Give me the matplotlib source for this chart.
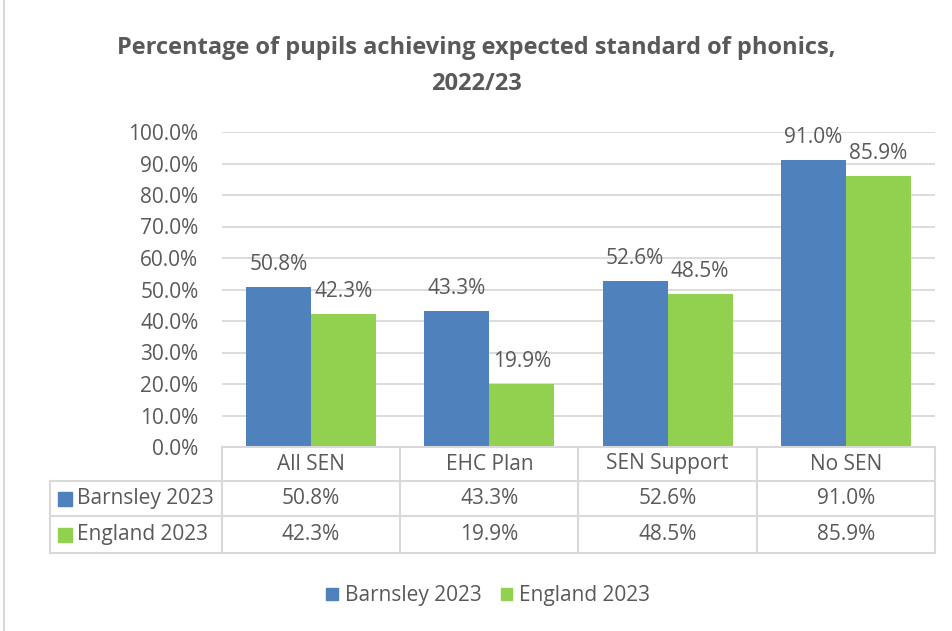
import numpy as np
import matplotlib.pyplot as plt
from matplotlib.patches import Rectangle
from matplotlib.transforms import blended_transform_factory

categorias = ['All SEN', 'EHC Plan', 'SEN Support', 'No SEN']
series = ['Barnsley 2023', 'England 2023']
barnsley = [50.8, 43.3, 52.6, 91.0]
england = [42.3, 19.9, 48.5, 85.9]
colores = ['#4f81bd', '#92d050']

W, H = 953, 631
gris_txt = '#595959'
gris_lin = '#d9d9d9'
fuente = 'Open Sans'
tam = 15

def px(x, y):
    # pixeles (desde arriba-izquierda) -> coords de figura
    return x / W, 1 - y / H

fig = plt.figure(figsize=(W / 100, H / 100), dpi=100)

# borde exterior del grafico
fig.patches.append(Rectangle(px(4, 645), 1.1, 1.1, transform=fig.transFigure,
                             fill=False, edgecolor=gris_lin, linewidth=1.5))

# titulo
fig.text(0.5, 1 - 48 / H, 'Percentage of pupils achieving expected standard of phonics,',
         ha='center', va='center', fontsize=17, fontweight='bold', color=gris_txt,
         family=fuente)
fig.text(0.5, 1 - 84 / H, '2022/23', ha='center', va='center', fontsize=17,
         fontweight='bold', color=gris_txt, family=fuente)

izq, der, arriba, abajo = 222, 935, 132, 447
ax = fig.add_axes([izq / W, 1 - abajo / H, (der - izq) / W, (abajo - arriba) / H])

x = np.arange(len(categorias))
ancho = 0.365
valores = [barnsley, england]
for i, vals in enumerate(valores):
    pos = x + (i - 0.5) * ancho
    ax.bar(pos, vals, width=ancho, color=colores[i], zorder=3)
    for p, v in zip(pos, vals):
        ax.text(p, v + 3.8, f'{v:.1f}%', ha='center', va='bottom', fontsize=tam,
                color=gris_txt, family=fuente, zorder=4)

ax.set_xlim(-0.5, len(categorias) - 0.5)
ax.set_ylim(0, 100)
ax.set_yticks(np.arange(0, 101, 10))
ax.set_yticklabels([f'{t:.1f}%' for t in np.arange(0, 101, 10)], fontsize=tam,
                   color=gris_txt, family=fuente)
ax.tick_params(axis='y', length=0, pad=17)
ax.set_xticks([])
ax.grid(axis='y', color=gris_lin, linewidth=1.3, zorder=0)
for s in ax.spines.values():
    s.set_visible(False)
ax.patch.set_alpha(0)

# tabla de datos debajo del eje
tr = blended_transform_factory(ax.transData, fig.transFigure)
filas_y = [447, 481, 516, 553]
izq_tabla = 50

def linea(x0, y0, x1, y1):
    a, b = px(x0, y0)
    c, d = px(x1, y1)
    fig.add_artist(plt.Line2D([a, c], [b, d], transform=fig.transFigure,
                              color=gris_lin, linewidth=1.5))

# lineas horizontales
linea(izq, filas_y[0], der, filas_y[0])
for yy in filas_y[1:]:
    linea(izq_tabla, yy, der, yy)
# lineas verticales
linea(izq_tabla, filas_y[1], izq_tabla, filas_y[3])
for k in range(len(categorias) + 1):
    xx = izq + k * (der - izq) / len(categorias)
    linea(xx, filas_y[0], xx, filas_y[3])

# encabezados de categoria
yc = 1 - (filas_y[0] + filas_y[1]) / 2 / H
for xi, cat in zip(x, categorias):
    ax.text(xi, yc, cat, transform=tr, ha='center', va='center', fontsize=tam,
            color=gris_txt, family=fuente)

# filas de valores con su clave de color
for r, (nombre, vals) in enumerate(zip(series, valores)):
    ym = 1 - (filas_y[r + 1] + filas_y[r + 2]) / 2 / H
    fig.patches.append(Rectangle((58 / W, ym - 7 / H), 14 / W, 14 / H,
                                 transform=fig.transFigure, color=colores[r]))
    fig.text(77 / W, ym, nombre, ha='left', va='center', fontsize=tam,
             color=gris_txt, family=fuente)
    for xi, v in zip(x, vals):
        ax.text(xi, ym, f'{v:.1f}%', transform=tr, ha='center', va='center',
                fontsize=tam, color=gris_txt, family=fuente)

# leyenda inferior
handles = [Rectangle((0, 0), 1, 1, color=c) for c in colores]
fig.legend(handles, series, loc='center', bbox_to_anchor=(0.5 + 12 / W, 1 - 596 / H),
           ncol=2, frameon=False, prop={'family': fuente, 'size': tam},
           labelcolor=gris_txt, handlelength=0.55, handleheight=0.55,
           handletextpad=0.35, columnspacing=0.9)

plt.savefig('out.png', dpi=100)
